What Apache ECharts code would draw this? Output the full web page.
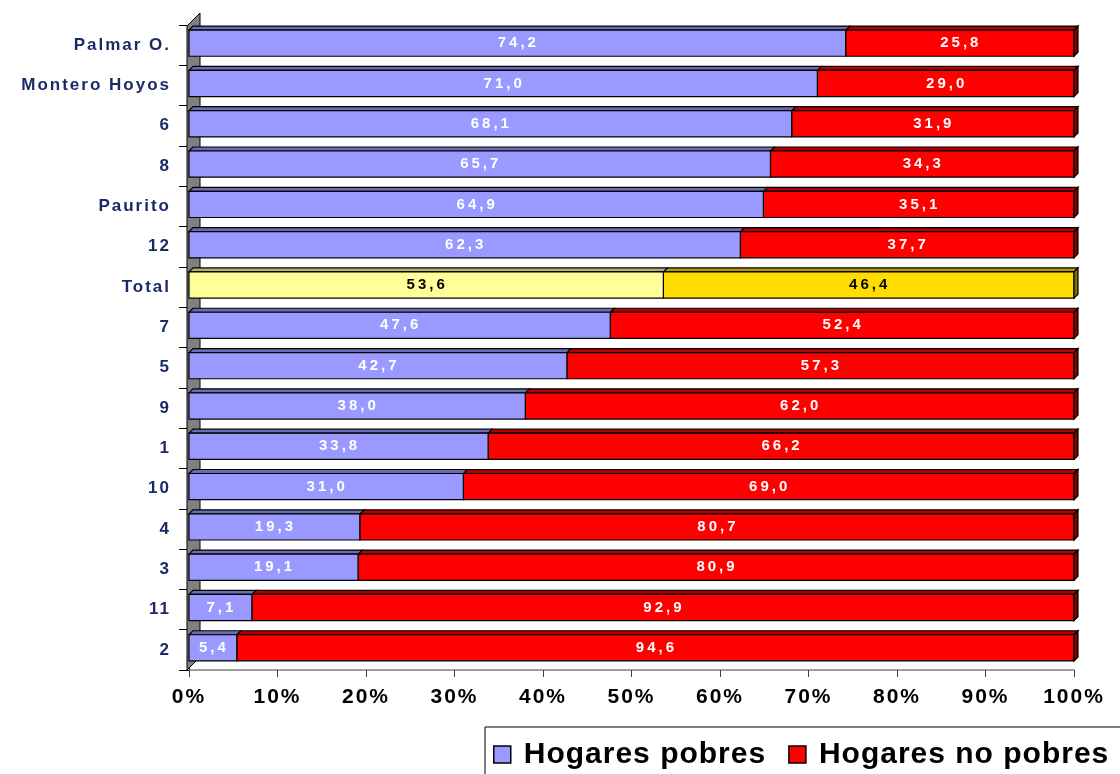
<!DOCTYPE html>
<html>
<head>
<meta charset="utf-8">
<script src="https://cdn.jsdelivr.net/npm/echarts@6/dist/echarts.min.js"></script>
<style>
  html, body { margin: 0; padding: 0; background: #fff; }
  #chart { width: 1120px; height: 774px; }
</style>
</head>
<body>
<div id="chart"></div>
<script>
// categorias de arriba hacia abajo
const categories = ['Palmar O.', 'Montero Hoyos', '6', '8', 'Paurito', '12', 'Total',
  '7', '5', '9', '1', '10', '4', '3', '11', '2'];
const pobres = [74.2, 71.0, 68.1, 65.7, 64.9, 62.3, 53.6, 47.6, 42.7, 38.0, 33.8, 31.0, 19.3, 19.1, 7.1, 5.4];
const noPobres = [25.8, 29.0, 31.9, 34.3, 35.1, 37.7, 46.4, 52.4, 57.3, 62.0, 66.2, 69.0, 80.7, 80.9, 92.9, 94.6];
const xTicks = [0, 10, 20, 30, 40, 50, 60, 70, 80, 90, 100];

// espaciado de letras como en el original, segun tamaño de fuente
function spacingFor(ctx) {
  const m = /(\d+(?:\.\d+)?)px/.exec(ctx.font);
  const size = m ? parseFloat(m[1]) : 12;
  if (size >= 26) return '1px';
  if (size === 15) return '3px';
  return '2px';
}
const _fillText = CanvasRenderingContext2D.prototype.fillText;
const _measureText = CanvasRenderingContext2D.prototype.measureText;
CanvasRenderingContext2D.prototype.fillText = function (t, x, y, w) {
  const old = this.letterSpacing;
  this.letterSpacing = spacingFor(this);
  if (w === undefined) _fillText.call(this, t, x, y); else _fillText.call(this, t, x, y, w);
  this.letterSpacing = old;
};
CanvasRenderingContext2D.prototype.measureText = function (t) {
  const old = this.letterSpacing;
  this.letterSpacing = spacingFor(this);
  const r = _measureText.call(this, t);
  this.letterSpacing = old;
  return r;
};

const DEPTH = 4;
const fmt = v => v.toFixed(1).replace('.', ',');
const FONT = '"Liberation Sans", Arial, sans-serif';

// colores: [frente, tapa, lado]
const colPobre = ['#9999ff', '#6b6bb3', '#4d4d80'];
const colNoPobre = ['#ff0000', '#b30000', '#800000'];
const colTotalA = ['#ffff99', '#b3b36b', '#80804d'];
const colTotalB = ['#ffdd00', '#b39b00', '#806e00'];

function segment(api, x0v, x1v, cat, cols, label, lblColor, withSide) {
  const p0 = api.coord([x0v, cat]);
  const p1 = api.coord([x1v, cat]);
  const h = api.size([0, 1])[1] * 0.65;
  const y = p0[1] - h / 2 - 2;
  const x0 = p0[0], x1 = p1[0];
  const line = { stroke: '#000', lineWidth: 1.2 };
  const children = [
    {
      type: 'polygon',
      shape: { points: [[x0, y], [x0 + DEPTH, y - DEPTH], [x1 + DEPTH, y - DEPTH], [x1, y]] },
      style: Object.assign({ fill: cols[1] }, line)
    },
    {
      type: 'rect',
      shape: { x: x0, y: y, width: x1 - x0, height: h },
      style: Object.assign({ fill: cols[0] }, line)
    }
  ];
  if (withSide) {
    children.push({
      type: 'polygon',
      shape: { points: [[x1, y], [x1 + DEPTH, y - DEPTH], [x1 + DEPTH, y + h - DEPTH], [x1, y + h]] },
      style: Object.assign({ fill: cols[2] }, line)
    });
  }
  children.push({
    type: 'text',
    style: {
      text: label,
      x: (x0 + x1) / 2 + 1,
      y: y + h / 2,
      align: 'center',
      verticalAlign: 'middle',
      fill: lblColor,
      font: 'bold 15px ' + FONT
    }
  });
  return { type: 'group', children: children };
}

const chart = echarts.init(document.getElementById('chart'));

chart.setOption({
  backgroundColor: '#fff',
  animation: false,
  grid: { left: 189, right: 46, top: 25, bottom: 104 },
  legend: {
    left: 485,
    top: 727,
    width: 800,
    padding: [12, 60, 12, 8],
    borderColor: '#000',
    borderWidth: 1,
    itemWidth: 17,
    itemHeight: 17,
    itemGap: 22,
    data: [
      { name: 'Hogares pobres', icon: 'rect', itemStyle: { color: colPobre[0], borderColor: '#000', borderWidth: 1.5 } },
      { name: 'Hogares no pobres', icon: 'rect', itemStyle: { color: colNoPobre[0], borderColor: '#000', borderWidth: 1.5 } }
    ],
    textStyle: { fontSize: 30, fontWeight: 'bold', color: '#000', fontFamily: FONT, padding: [0, 0, 0, 8] }
  },
  xAxis: {
    type: 'value',
    min: 0,
    max: 100,
    interval: 10,
    axisLine: { show: true, lineStyle: { color: '#808080', width: 1.5 } },
    axisTick: { show: true, length: 7, lineStyle: { color: '#404040' } },
    splitLine: { show: false },
    axisLabel: {
      margin: 16,
      color: '#000',
      fontSize: 21,
      fontWeight: 'bold',
      fontFamily: FONT,
      formatter: v => (xTicks.indexOf(v) >= 0 ? v + '%' : '')
    }
  },
  yAxis: {
    type: 'category',
    inverse: true,
    data: categories,
    axisLine: { show: true, lineStyle: { color: '#000' } },
    axisTick: { show: true, length: 10, lineStyle: { color: '#000' } },
    axisLabel: {
      margin: 18,
      color: '#1b2a66',
      fontSize: 17,
      fontWeight: 'bold',
      fontFamily: FONT
    }
  },
  series: [
    {
      // pared lateral gris
      type: 'custom',
      name: 'pared',
      silent: true,
      z: 1,
      data: [[0, 0]],
      encode: { x: 0, y: 1 },
      renderItem: function (params) {
        const cs = params.coordSys;
        const x = cs.x - 2, top = cs.y + 1, bot = cs.y + cs.height, d = 13;
        return {
          type: 'polygon',
          shape: { points: [[x, bot], [x, top], [x + d, top - d], [x + d, bot - d]] },
          style: { fill: '#808080', stroke: '#000', lineWidth: 1 }
        };
      }
    },
    {
      type: 'custom',
      name: 'Hogares pobres',
      z: 3,
      data: categories.map((c, i) => [pobres[i], i]),
      encode: { x: 0, y: 1 },
      renderItem: function (params, api) {
        const i = params.dataIndex;
        const tot = categories[i] === 'Total';
        return segment(api, 0, pobres[i], i, tot ? colTotalA : colPobre,
          fmt(pobres[i]), tot ? '#000' : '#fff', false);
      }
    },
    {
      type: 'custom',
      name: 'Hogares no pobres',
      z: 2,
      data: categories.map((c, i) => [pobres[i] + noPobres[i], i]),
      encode: { x: 0, y: 1 },
      renderItem: function (params, api) {
        const i = params.dataIndex;
        const tot = categories[i] === 'Total';
        return segment(api, pobres[i], pobres[i] + noPobres[i], i, tot ? colTotalB : colNoPobre,
          fmt(noPobres[i]), tot ? '#000' : '#fff', true);
      }
    }
  ]
});
</script>
</body>
</html>
